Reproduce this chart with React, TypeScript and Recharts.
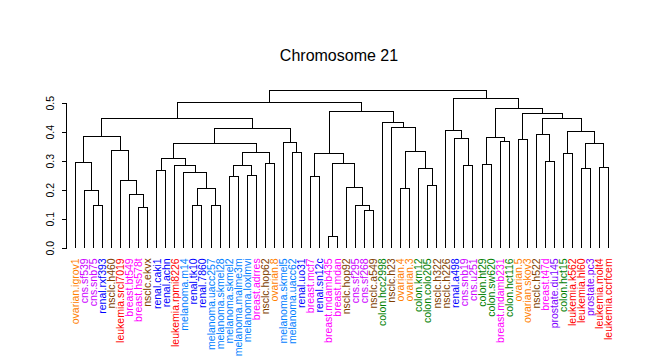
import React from 'react';
import { ComposedChart, Line, XAxis, YAxis, ReferenceLine } from 'recharts';

// leaves in plotting order
const leafLabels = [
  'ovarian.igrov1', 'cns.sf539', 'cns.snb75', 'renal.rxf393', 'nsclc.h460',
  'leukemia.srcl7019', 'breast.bt549', 'breast.hs578t', 'nsclc.ekvx', 'renal.caki1',
  'renal.achn', 'leukemia.rpmi8226', 'melanoma.m14', 'renal.tk10', 'renal.7860',
  'melanoma.uacc257', 'melanoma.skmel28', 'melanoma.skmel2', 'melanoma.malme3m', 'melanoma.loxlmvi',
  'breast.adrres', 'nsclc.hop62', 'ovarian.8', 'melanoma.skmel5', 'melanoma.uacc62',
  'renal.uo31', 'breast.mcf7', 'renal.sn12c', 'breast.mdamb435', 'breast.mdan',
  'nsclc.hop92', 'cns.sf295', 'cns.sf268', 'nsclc.a549', 'colon.hcc2998',
  'nsclc.h23', 'ovarian.4', 'ovarian.3', 'colon.km12', 'colon.colo205',
  'nsclc.h322', 'nsclc.h226', 'renal.a498', 'cns.snb19', 'cns.u251',
  'colon.ht29', 'colon.sw620', 'breast.mdamb231', 'colon.hct116', 'ovarian.5',
  'ovarian.skov3', 'nsclc.h522', 'breast.t47d', 'prostate.du145', 'colon.hct15',
  'leukemia.k562', 'leukemia.hl60', 'prostate.pc3', 'leukemia.molt4', 'leukemia.ccrfcem',
];

const tissueColors: Record<string, string> = {
  ovarian: '#FF8000',
  cns: '#CC00FF',
  renal: '#0000FF',
  nsclc: '#804000',
  leukemia: '#FF0000',
  breast: '#FF00FF',
  melanoma: '#0080FF',
  colon: '#008000',
  prostate: '#8000FF',
};

// hclust-style merges: negative = leaf number, positive = earlier merge, then height
const merges: [number, number, number][] = [
  [-3, -4, 0.148], [-2, 1, 0.2], [-1, 2, 0.297], [-8, -9, 0.141], [-7, 4, 0.186],
  [-6, 5, 0.234], [-5, 6, 0.338], [3, 7, 0.386], [-10, -11, 0.269], [-14, -15, 0.148],
  [-16, -17, 0.148], [10, 11, 0.207], [-13, 12, 0.262], [-12, 13, 0.286], [9, 14, 0.31],
  [-18, -19, 0.248], [-20, -21, 0.252], [16, 17, 0.286], [-22, -23, 0.293], [18, 19, 0.331],
  [15, 20, 0.362], [-25, -26, 0.331], [-24, 22, 0.366], [21, 23, 0.414], [8, 24, 0.446],
  [-27, -28, 0.248], [-29, -30, 0.041], [-33, -34, 0.131], [-32, 28, 0.148], [-31, 29, 0.21],
  [27, 30, 0.293], [26, 31, 0.328], [-37, -38, 0.207], [-40, -41, 0.217], [-39, 34, 0.276],
  [33, 35, 0.334], [-36, 36, 0.417], [-35, 37, 0.434], [32, 38, 0.472], [25, 39, 0.503],
  [-44, -45, 0.286], [-43, 41, 0.379], [-42, 42, 0.407], [-46, -47, 0.29], [-48, -49, 0.369],
  [44, 45, 0.383], [-50, -51, 0.376], [-53, -54, 0.3], [-52, 48, 0.393], [-55, -56, 0.328],
  [-57, -58, 0.276], [-59, -60, 0.279], [51, 52, 0.362], [50, 53, 0.403], [49, 54, 0.448],
  [47, 55, 0.466], [46, 56, 0.483], [43, 57, 0.517], [40, 58, 0.545],
];

const yTicks = [0, 0.1, 0.2, 0.3, 0.4, 0.5];
const leafTicks = leafLabels.map((_, i) => i + 1);

const font = '"Liberation Sans", Arial, sans-serif';

// turn merges into U-shaped polylines
const nodeX: number[] = [];
const nodeH: number[] = [];
const at = (ref: number) =>
  ref < 0 ? { x: -ref, h: 0 } : { x: nodeX[ref - 1], h: nodeH[ref - 1] };
const segments = merges.map(([a, b, h], i) => {
  const l = at(a);
  const r = at(b);
  nodeX[i] = (l.x + r.x) / 2;
  nodeH[i] = h;
  return [
    { x: l.x, y: l.h },
    { x: l.x, y: h },
    { x: r.x, y: h },
    { x: r.x, y: r.h },
  ];
});

const LeafTick = (props: any) => {
  const { x, y, payload } = props;
  const label = leafLabels[payload.value - 1];
  if (!label) return null;
  const color = tissueColors[label.split('.')[0]] || '#000';
  return (
    <text
      transform={`translate(${x},${y + 2}) rotate(-90)`}
      textAnchor="end"
      dy="0.35em"
      fill={color}
      fontSize={10.5}
      fontFamily={font}
    >
      {label}
    </text>
  );
};

const HeightTick = (props: any) => {
  const { x, y, payload } = props;
  return (
    <text
      transform={`translate(${x - 9},${y}) rotate(-90)`}
      textAnchor="middle"
      dy="0.35em"
      fill="#000"
      fontSize={10.5}
      fontFamily={font}
    >
      {payload.value.toFixed(1)}
    </text>
  );
};

export default function App() {
  return (
    <div style={{ position: 'absolute', left: 0, top: 0, width: 647, height: 360, background: '#fff' }}>
      <div
        style={{
          position: 'absolute',
          left: 239,
          top: 48,
          width: 200,
          textAlign: 'center',
          fontFamily: font,
          fontSize: 16,
          lineHeight: '16px',
          color: '#000',
        }}
      >
        Chromosome 21
      </div>
      <ComposedChart
        width={647}
        height={360}
        margin={{ top: 88.8, right: 29.5, bottom: 0, left: 36.5 }}
      >
        <XAxis
          type="number"
          dataKey="x"
          domain={[0, 61]}
          ticks={leafTicks}
          interval={0}
          axisLine={false}
          tickLine={false}
          tickSize={0}
          tickMargin={8}
          height={111.7}
          tick={(p: any) => <LeafTick {...p} />}
        />
        <YAxis
          type="number"
          domain={[0, 0.55]}
          ticks={yTicks}
          width={30}
          axisLine={false}
          tickLine={{ stroke: '#000', shapeRendering: 'crispEdges' }}
          tickSize={5}
          tickMargin={2}
          tick={(p: any) => <HeightTick {...p} />}
        />
        <ReferenceLine
          segment={[{ x: 0, y: 0 }, { x: 0, y: 0.5 }]}
          stroke="#000"
          strokeWidth={1}
          shapeRendering="crispEdges"
          ifOverflow="visible"
        />
        {segments.map((seg, i) => (
          <Line
            key={i}
            data={seg}
            dataKey="y"
            type="linear"
            stroke="#000"
            strokeWidth={1}
            shapeRendering="crispEdges"
            dot={false}
            activeDot={false}
            isAnimationActive={false}
          />
        ))}
      </ComposedChart>
    </div>
  );
}
